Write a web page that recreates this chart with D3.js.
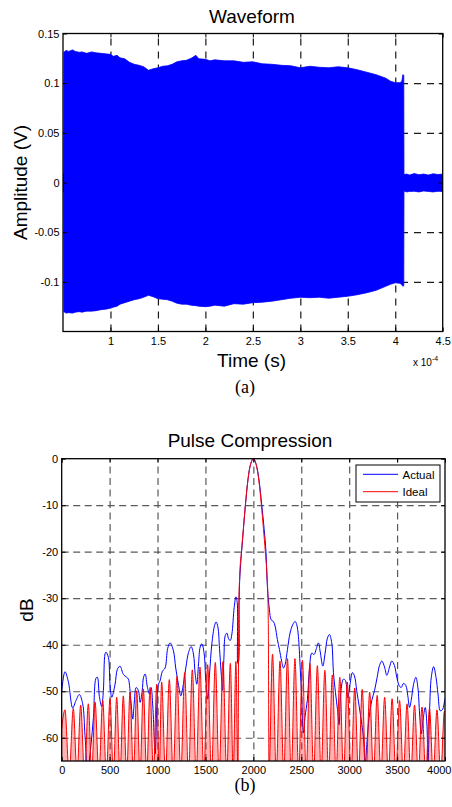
<!DOCTYPE html>
<html><head><meta charset="utf-8">
<script src="https://cdn.jsdelivr.net/npm/d3@7"></script>
<style>
body{margin:0;background:#fff}
svg{display:block}
text{font-family:Arial,"Liberation Sans",Helvetica,sans-serif;fill:#000}
</style>
</head><body>
<svg id="c" width="452" height="807"></svg>
<script>
// ---------- DATA ----------
// (a) Waveform envelope, time in units of 1e-4 s
const waveTime = [
  0.50, 0.508, 0.51, 0.53, 0.56, 0.60, 0.63, 0.67, 0.70, 0.75,
  0.80, 0.85, 0.90, 0.95, 1.00, 1.03, 1.07, 1.10, 1.15, 1.20,
  1.25, 1.30, 1.35, 1.40, 1.45, 1.50, 1.55, 1.60, 1.65, 1.70,
  1.75, 1.80, 1.85, 1.90, 1.93, 2.00, 2.05, 2.10, 2.20, 2.30,
  2.40, 2.50, 2.60, 2.70, 2.80, 2.90, 3.00, 3.10, 3.20, 3.30,
  3.40, 3.50, 3.60, 3.70, 3.80, 3.90, 3.95, 4.00, 4.05, 4.07,
  4.08, 4.09, 4.092, 4.12, 4.15, 4.20, 4.25, 4.30, 4.35, 4.40,
  4.45, 4.50];
const waveUpper = [
  0.009, 0.009, 0.131, 0.133, 0.132, 0.1335, 0.132, 0.131, 0.1315, 0.130,
  0.1315, 0.1305, 0.130, 0.1295, 0.129, 0.127, 0.128, 0.1255, 0.1245, 0.121,
  0.119, 0.118, 0.1165, 0.113, 0.1145, 0.1155, 0.117, 0.1175, 0.119, 0.1215,
  0.1225, 0.123, 0.125, 0.128, 0.1245, 0.124, 0.1225, 0.1235, 0.1225, 0.1225,
  0.121, 0.1215, 0.1195, 0.119, 0.118, 0.1175, 0.1155, 0.117, 0.116, 0.1155,
  0.1165, 0.1155, 0.1135, 0.111, 0.1085, 0.105, 0.102, 0.1005, 0.1005, 0.102,
  0.1085, 0.108, 0.008, 0.0085, 0.0075, 0.009, 0.0078, 0.0085, 0.0075, 0.0088,
  0.008, 0.0085];
const waveLower = [
  -0.009, -0.009, -0.130, -0.1315, -0.131, -0.1315, -0.1305, -0.130, -0.1305, -0.1295,
  -0.1295, -0.129, -0.128, -0.1275, -0.1265, -0.1255, -0.1245, -0.1225, -0.121, -0.1195,
  -0.118, -0.117, -0.1155, -0.1135, -0.115, -0.117, -0.1175, -0.118, -0.1195, -0.1215,
  -0.1225, -0.1225, -0.1235, -0.124, -0.1245, -0.125, -0.1245, -0.1235, -0.1245, -0.122,
  -0.1225, -0.121, -0.1205, -0.1195, -0.118, -0.1165, -0.1155, -0.116, -0.1155, -0.1165,
  -0.1155, -0.1145, -0.113, -0.111, -0.1085, -0.1045, -0.1025, -0.101, -0.1015, -0.103,
  -0.1045, -0.104, -0.0085, -0.0095, -0.009, -0.0088, -0.0095, -0.0085, -0.009, -0.0095,
  -0.0088, -0.009];
const waveXTicks = [1, 1.5, 2, 2.5, 3, 3.5, 4, 4.5];
const waveYTicks = [0.15, 0.1, 0.05, 0, -0.05, -0.1];

// (b) Pulse compression, [sample, dB]
const actualPoints = [
  [0,-50],[34,-45.8],[69,-47.9],[115,-53.6],[149,-52],[184,-50.7],[219,-52.7],[243,-59.5],[271,-67],[303,-62],
  [331,-55.6],[358,-47.2],[372,-47],[393,-51.1],[417,-53.3],[435,-49.8],[452,-42],[462,-41.6],[487,-42.7],[504,-48.5],
  [522,-51.3],[557,-48.5],[581,-45.3],[609,-44.6],[644,-46.4],[679,-47],[696,-47.4],[721,-52],[742,-56],[756,-52.8],
  [777,-49.2],[801,-49.9],[819,-52.4],[840,-49.9],[854,-47],[871,-46.3],[895,-49.2],[916,-50.6],[933,-49.2],[951,-53.4],
  [975,-63.5],[995,-52],[1009,-48.5],[1026,-47.8],[1051,-45.7],[1079,-45],[1106,-40.8],[1131,-39.6],[1165,-41.2],[1190,-45],
  [1218,-48.5],[1243,-51],[1264,-49.2],[1295,-45],[1323,-41.7],[1351,-40.4],[1375,-42],[1393,-46.3],[1410,-48.5],[1428,-44.1],
  [1445,-40.5],[1463,-39.8],[1487,-42],[1504,-47.8],[1525,-51.7],[1543,-46.3],[1567,-39.8],[1595,-35.9],[1612,-35.1],[1630,-36.2],
  [1647,-40.8],[1665,-46.3],[1679,-49.8],[1693,-42.7],[1707,-38],[1724,-37.5],[1741,-38.7],[1759,-39.1],[1776,-37.7],[1800,-32],
  [1818,-29.7],[1832,-31],[1838,-44],[1846,-43.6],[1852,-30],[1860,-25],[1877,-20],[1897,-15],[1917,-10],[1945,-4.3],
  [1970,-1.3],[2000,0],[2030,-1.3],[2057,-4.3],[2088,-10],[2112,-15],[2132,-20],[2141,-25],[2151,-29],[2168,-32.5],
  [2185,-34.6],[2209,-35],[2227,-36],[2251,-38.9],[2272,-41],[2296,-43.6],[2314,-45],[2331,-44.3],[2356,-41],[2383,-37.5],
  [2411,-35.7],[2436,-35],[2453,-35.7],[2470,-38.2],[2488,-44.6],[2505,-51.8],[2522,-59],[2540,-55.4],[2564,-51.8],[2585,-45.4],
  [2610,-41.8],[2634,-42.1],[2655,-41],[2679,-39.6],[2697,-41.4],[2725,-44.6],[2749,-41.8],[2773,-38.6],[2794,-37.8],[2818,-39.6],
  [2836,-46],[2857,-50.3],[2878,-53.9],[2895,-57.2],[2912,-50.3],[2940,-47.4],[2961,-47.7],[2985,-51.4],[3009,-48.5],[3034,-46],
  [3055,-46.7],[3079,-49.9],[3104,-53.2],[3132,-57.1],[3149,-60],[3167,-66],[3184,-61.4],[3208,-55.6],[3236,-52],[3264,-49.9],
  [3292,-47],[3316,-44.5],[3341,-43.5],[3369,-44.8],[3393,-46.6],[3421,-44.8],[3445,-43.5],[3473,-44.5],[3497,-47],[3522,-48.8],
  [3543,-49.2],[3567,-48.3],[3592,-48.8],[3612,-51],[3630,-53.5],[3647,-52],[3672,-48.5],[3696,-47],[3717,-49.2],[3735,-54.9],
  [3752,-59.2],[3770,-56.3],[3794,-53.5],[3811,-57.1],[3822,-66],[3839,-54.2],[3857,-47],[3881,-44.7],[3906,-47],[3927,-50.6],
  [3951,-54.2],[3975,-53.9],[3996,-52],[4000,-51.5]];
const idealPoints = [
  [0,-58],[34,-54],[78,-68],[121,-53.7],[160,-68],[198,-53],[238,-68],[278,-52.7],[313,-68],[348,-52.3],
  [388,-68],[428,-52],[466,-68],[504,-51.6],[539,-68],[574,-51.3],[608,-68],[643,-51],[678,-68],[713,-50.2],
  [748,-68],[783,-49.9],[817,-68],[852,-49.5],[887,-68],[922,-49.2],[957,-68],[992,-48.5],[1017,-68],[1043,-48],
  [1083,-68],[1123,-47.5],[1163,-68],[1203,-46.8],[1243,-68],[1283,-46],[1323,-68],[1363,-45.4],[1403,-68],[1443,-44.8],
  [1483,-68],[1523,-44.3],[1563,-68],[1603,-43.8],[1643,-68],[1683,-43.6],[1722,-68],[1760,-44],[1790,-68],[1818,-43.6],
  [1840,-68],[1848,-32],[1858,-25],[1876,-20],[1896,-15],[1917,-10],[1945,-4.3],[1970,-1.3],[2000,0],[2030,-1.3],
  [2055,-4.3],[2084,-10],[2105,-15],[2125,-20],[2142,-25],[2152,-30],[2157,-38],[2163,-68],[2200,-42],[2239,-68],
  [2278,-43.5],[2317,-68],[2356,-43],[2395,-68],[2434,-43],[2473,-68],[2512,-43.3],[2551,-68],[2590,-44],[2629,-68],
  [2668,-44.5],[2707,-68],[2746,-45.5],[2785,-68],[2824,-46.5],[2863,-68],[2902,-47],[2941,-68],[2980,-48],[3019,-68],
  [3058,-49.3],[3097,-68],[3136,-49.6],[3175,-68],[3214,-50.2],[3253,-68],[3292,-50.9],[3331,-68],[3370,-51.3],[3409,-68],
  [3448,-51.6],[3487,-68],[3526,-52],[3565,-68],[3604,-52.7],[3643,-68],[3682,-53],[3721,-68],[3760,-53.4],[3799,-68],
  [3838,-53.7],[3877,-68],[3916,-54],[3955,-68],[3994,-54.3],[4000,-54.5]];
const mainLobeRange = [1840, 2163];
const pcXTicks = [0, 500, 1000, 1500, 2000, 2500, 3000, 3500, 4000];
const pcYTicks = [0, -10, -20, -30, -40, -50, -60];
const legendLabels = ["Actual", "Ideal"];
const seriesColors = ["#0000ff", "#ff0000"];

// ---------- DRAW ----------
const svg = d3.select("#c");
const fmt = d => String(d);

function drawPanel(opt) {
  const {x, y, xTicks, yTicks, id, gridColor, dash, padX} = opt;
  const [x0, x1] = x.range();
  const [y1, y0] = y.range();
  const g = svg.append("g");
  const xd = x.domain(), yd = y.domain();
  const xg = xTicks.filter(v => v > xd[0] && v < xd[1]);
  const yg = yTicks.filter(v => v > yd[0] && v < yd[1]);
  const grid = g.append("g").attr("class","grid");
  grid.append("g").attr("transform",`translate(0,${y1})`)
    .call(d3.axisBottom(x).tickValues(xg).tickSize(-(y1-y0)).tickFormat(""));
  grid.append("g").attr("transform",`translate(${x0},0)`)
    .call(d3.axisLeft(y).tickValues(yg).tickSize(-(x1-x0)).tickFormat(""));
  grid.selectAll(".domain").remove();
  grid.selectAll("line").attr("stroke",gridColor).attr("stroke-width",1.2).attr("stroke-dasharray",dash);
  svg.append("clipPath").attr("id",id).append("rect")
    .attr("x",x0).attr("y",y0).attr("width",x1-x0).attr("height",y1-y0);
  const plot = svg.append("g").attr("clip-path",`url(#${id})`);
  const axes = svg.append("g");
  const ax = (sel) => { sel.selectAll(".domain").remove(); sel.selectAll("line").attr("stroke","#000"); };
  const bottom = axes.append("g").attr("transform",`translate(0,${y1})`)
    .call(d3.axisBottom(x).tickValues(xTicks).tickSize(-4).tickPadding(padX).tickFormat(fmt))
    .call(ax);
  bottom.selectAll("text").attr("font-size",11).attr("font-family","Arial, 'Liberation Sans', sans-serif");
  axes.append("g").attr("transform",`translate(${x0},0)`)
    .call(d3.axisLeft(y).tickValues(yTicks).tickSize(-4).tickPadding(3.5).tickFormat(fmt))
    .call(ax).selectAll("text").attr("font-size",11).attr("font-family","Arial, 'Liberation Sans', sans-serif");
  axes.append("g").attr("transform",`translate(0,${y0})`)
    .call(d3.axisTop(x).tickValues(xTicks).tickSize(-4).tickFormat("")).call(ax);
  axes.append("g").attr("transform",`translate(${x1},0)`)
    .call(d3.axisRight(y).tickValues(yTicks).tickSize(-4).tickFormat("")).call(ax);
  axes.append("rect").attr("x",x0).attr("y",y0).attr("width",x1-x0).attr("height",y1-y0)
    .attr("fill","none").attr("stroke","#000").attr("stroke-width",1.3);
  return {plot, axes, bottom};
}

// ---- Panel (a)
const xA = d3.scaleLinear().domain([0.5, 4.5]).range([63, 442.7]);
const yA = d3.scaleLinear().domain([-0.15, 0.15]).range([331.5, 33.5]);
const pA = drawPanel({x:xA, y:yA, xTicks:waveXTicks, yTicks:waveYTicks, id:"clipA", gridColor:"#1a1a1a", dash:"7,6", padX:5.5});
const waveData = waveTime.map((t,i) => ({t, hi:waveUpper[i], lo:waveLower[i]}));
pA.plot.append("path").datum(waveData)
  .attr("d", d3.area().x(d => xA(d.t)).y0(d => yA(d.lo)).y1(d => yA(d.hi)))
  .attr("fill","#0000ff").attr("stroke","#0000ff").attr("stroke-width",0.8);

svg.append("text").attr("x",252).attr("y",23.3).attr("text-anchor","middle").attr("font-size",19).text("Waveform");
svg.append("text").attr("x",251.5).attr("y",366.5).attr("text-anchor","middle").attr("font-size",19).text("Time (s)");
svg.append("text").attr("transform","translate(27,182.5) rotate(-90)").attr("text-anchor","middle").attr("font-size",19).text("Amplitude (V)");
const expT = svg.append("text").attr("x",413).attr("y",365.7).attr("font-size",10);
expT.append("tspan").text("x 10");
expT.append("tspan").attr("dy",-5).attr("font-size",7).text("-4");
svg.append("text").attr("x",245).attr("y",393).attr("text-anchor","middle").attr("font-size",18)
  .style("font-family","'Liberation Serif','Times New Roman',serif").text("(a)");

// ---- Panel (b)
const xB = d3.scaleLinear().domain([0, 4000]).range([61.7, 445]);
const yB = d3.scaleLinear().domain([-65, 0]).range([761, 458.7]);
const pB = drawPanel({x:xB, y:yB, xTicks:pcXTicks, yTicks:pcYTicks, id:"clipB", gridColor:"#5a5a5a", dash:"7,4.5", padX:5});
// keep the last (edge) tick label inside the page
pB.bottom.selectAll(".tick").filter(d => d === pcXTicks[pcXTicks.length-1])
  .select("text").attr("text-anchor","end").attr("x",6);

pB.plot.append("path").datum(actualPoints)
  .attr("d", d3.line().x(d => xB(d[0])).y(d => yB(d[1])).curve(d3.curveCatmullRom.alpha(0.5)))
  .attr("fill","none").attr("stroke",seriesColors[0]).attr("stroke-width",1);
// light fill inside the ideal side lobes
const sideAreas = [idealPoints.filter(d => d[0] <= mainLobeRange[0]), idealPoints.filter(d => d[0] >= mainLobeRange[1])];
sideAreas.forEach(pts => {
  pB.plot.append("path").datum(pts)
    .attr("d", d3.area().x(d => xB(d[0])).y0(yB(-68)).y1(d => yB(d[1])).curve(d3.curveMonotoneX))
    .attr("fill","#ff0000").attr("fill-opacity",0.3).attr("stroke","none");
});
pB.plot.append("path").datum(idealPoints)
  .attr("d", d3.line().x(d => xB(d[0])).y(d => yB(d[1])).curve(d3.curveMonotoneX))
  .attr("fill","none").attr("stroke",seriesColors[1]).attr("stroke-width",1);

svg.append("text").attr("x",250).attr("y",447).attr("text-anchor","middle").attr("font-size",19).text("Pulse Compression");
svg.append("text").attr("transform","translate(33,610) rotate(-90)").attr("text-anchor","middle").attr("font-size",19).text("dB");
svg.append("text").attr("x",245).attr("y",791).attr("text-anchor","middle").attr("font-size",18)
  .style("font-family","'Liberation Serif','Times New Roman',serif").text("(b)");

// legend
const lg = svg.append("g");
lg.append("rect").attr("x",356).attr("y",465).attr("width",84).attr("height",37)
  .attr("fill","#fff").attr("stroke","#000").attr("stroke-width",1);
legendLabels.forEach((lab,i) => {
  const yy = 474.3 + i*17.4;
  lg.append("line").attr("x1",363).attr("x2",398).attr("y1",yy).attr("y2",yy)
    .attr("stroke",seriesColors[i]).attr("stroke-width",1);
  lg.append("text").attr("x",402.5).attr("y",yy+4.3).attr("font-size",11.5).text(lab);
});
</script>
</body></html>
